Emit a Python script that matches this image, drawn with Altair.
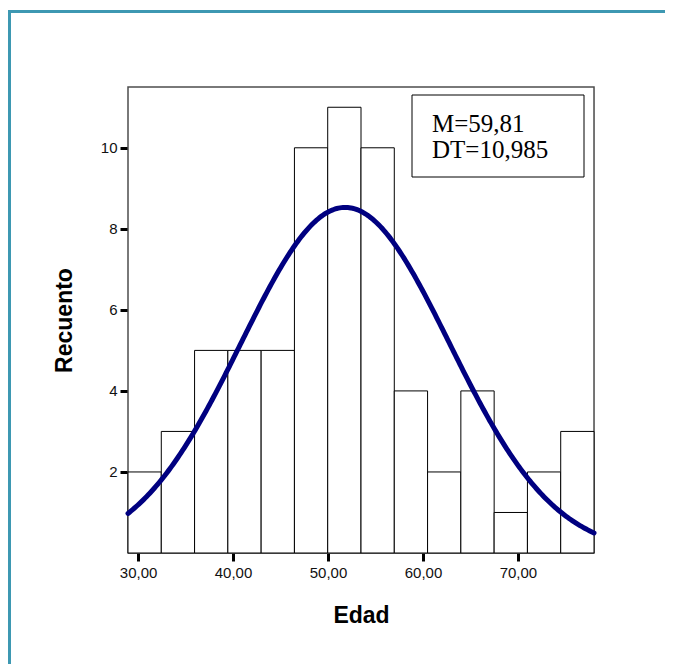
import altair as alt
import pandas as pd
import numpy as np

# Histogram data (Edad)
bin_start = [28.94, 32.445, 35.95, 39.455, 42.96, 46.465, 49.97, 53.475, 56.98, 60.485, 63.99, 67.495, 71.0, 74.505]
bin_end = [32.445, 35.95, 39.455, 42.96, 46.465, 49.97, 53.475, 56.98, 60.485, 63.99, 67.495, 71.0, 74.505, 78.01]
counts = [2, 3, 5, 5, 5, 10, 11, 10, 4, 2, 4, 1, 2, 3]

# Normal curve parameters
curve_mean = 51.81
curve_sd = 10.985
n_obs = 67
bin_width = 3.505

x_ticks = [30, 40, 50, 60, 70]
y_ticks = [2, 4, 6, 8, 10]
x_domain = [28.94, 78.01]
y_domain = [0, 11.5]

annot_lines = ["M=59,81", "DT=10,985"]

bars_df = pd.DataFrame({"x0": bin_start, "x1": bin_end, "y0": [0] * len(counts), "count": counts})

xs = np.linspace(x_domain[0], x_domain[1], 300)
ys = n_obs * bin_width / (curve_sd * np.sqrt(2 * np.pi)) * np.exp(-0.5 * ((xs - curve_mean) / curve_sd) ** 2)
curve_df = pd.DataFrame({"x": xs, "y": ys})

W, H = 466, 466

xscale = alt.Scale(domain=x_domain, nice=False, zero=False)
yscale = alt.Scale(domain=y_domain, nice=False)

xaxis = alt.Axis(
    values=x_ticks, title="Edad", grid=False, domain=False,
    labelExpr="replace(format(datum.value, '.2f'), '.', ',')",
    tickColor="black", tickWidth=3, tickSize=8, labelPadding=4,
    labelFont="Liberation Sans", labelFontSize=15, labelColor="#111111",
    titleFont="Liberation Sans", titleFontSize=23, titleFontWeight="bold", titleColor="black",
    titleY=69, titleBaseline="alphabetic",
)
yaxis = alt.Axis(
    values=y_ticks, title="Recuento", grid=False, domain=False,
    tickColor="black", tickWidth=3, tickSize=8, labelPadding=3,
    labelFont="Liberation Sans", labelFontSize=15, labelColor="#111111",
    titleFont="Liberation Sans", titleFontSize=23, titleFontWeight="bold", titleColor="black",
    titleX=-64, titleY=H / 2, titleAngle=-90, titleAlign="center", titleBaseline="middle",
)

one = pd.DataFrame({"a": [0]})

plot_frame = alt.Chart(one).mark_rect(fill="white", stroke="#4d4d4d", strokeWidth=1.5).encode(
    x=alt.value(0), x2=alt.value(W), y=alt.value(0), y2=alt.value(H)
)

bars = alt.Chart(bars_df).mark_rect(fill="white", stroke="black", strokeWidth=1).encode(
    x=alt.X("x0:Q", scale=xscale, axis=xaxis),
    x2="x1:Q",
    y=alt.Y("y0:Q", scale=yscale, axis=yaxis),
    y2="count:Q",
)

curve = alt.Chart(curve_df).mark_line(color="#000080", strokeWidth=5, strokeCap="round").encode(
    x=alt.X("x:Q", scale=xscale),
    y=alt.Y("y:Q", scale=yscale),
)

box = alt.Chart(one).mark_rect(fill="white", stroke="black", strokeWidth=1).encode(
    x=alt.value(284), x2=alt.value(456), y=alt.value(8), y2=alt.value(90)
)

text_style = dict(font="Liberation Serif", fontSize=25, align="left", baseline="alphabetic", color="black")
text1 = alt.Chart(one).mark_text(text=annot_lines[0], **text_style).encode(
    x=alt.value(304), y=alt.value(45)
)
text2 = alt.Chart(one).mark_text(text=annot_lines[1], **text_style).encode(
    x=alt.value(304), y=alt.value(71)
)

frame_left = alt.Chart(one).mark_rule(color="#3d98b2", strokeWidth=3).encode(
    x=alt.value(-118.5), y=alt.value(-76), y2=alt.value(577)
)
frame_top = alt.Chart(one).mark_rule(color="#3d98b2", strokeWidth=3).encode(
    x=alt.value(-120), x2=alt.value(537), y=alt.value(-75.5)
)

chart = alt.layer(plot_frame, bars, curve, box, text1, text2, frame_left, frame_top).properties(
    width=W, height=H,
    autosize=alt.AutoSizeParams(type="none"),
    padding={"left": 120, "top": 79, "right": 71, "bottom": 111},
).configure_view(stroke=None).configure(background="white")

chart.save("out.html", embed_options={"renderer": "svg", "actions": False})
